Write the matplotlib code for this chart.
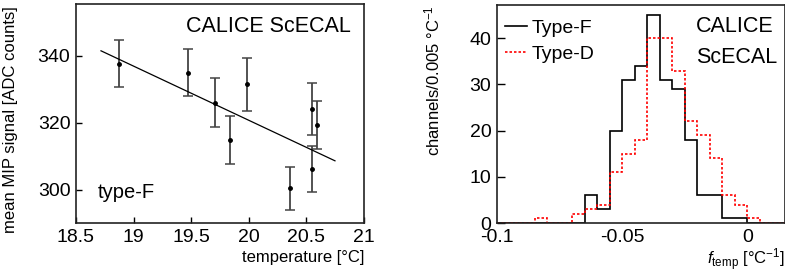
import numpy as np
from matplotlib import pyplot as plt

plt.rcParams['font.family'] = ['Liberation Sans', 'DejaVu Sans']
plt.rcParams['mathtext.fontset'] = 'custom'
plt.rcParams['mathtext.rm'] = 'Liberation Sans'
plt.rcParams['mathtext.it'] = 'Liberation Sans:italic'

# left panel: mean MIP signal vs temperature (type-F)
temp = [18.873, 19.475, 19.707, 19.837, 19.981, 20.355, 20.546, 20.549, 20.589]
mip = [337.7, 334.9, 326.0, 314.9, 331.5, 300.4, 324.2, 306.1, 319.3]
mip_err = [7.0, 7.0, 7.3, 7.2, 7.9, 6.4, 7.8, 6.8, 7.3]
fit_t = [18.717, 20.748]
fit_y = [341.5, 308.6]

# right panel: f_temp histograms, bin width 0.005
edges = np.round(np.arange(-0.1, 0.0151, 0.005), 4)
type_f = [0, 0, 0, 0, 0, 0, 0, 6, 3, 20, 31, 34, 45, 31, 29, 18, 6, 6, 1, 1, 0, 0, 0]
type_d = [0, 0, 0, 1, 0, 0, 2, 3, 4, 11, 15, 18, 40, 40, 33, 22, 19, 14, 6, 4, 1, 0, 0]

W, H = 785, 270
fig = plt.figure(figsize=(W/100, H/100), dpi=100)

ax1 = fig.add_axes([76/W, 1 - 223/H, (364-76)/W, (223-4)/H])
ax2 = fig.add_axes([497/W, 1 - 223/H, (785-497)/W, (223-5)/H])

for ax in (ax1, ax2):
    for s in ax.spines.values():
        s.set_color('#222222')
        s.set_linewidth(1.2)

# left
ax1.errorbar(temp, mip, yerr=mip_err, fmt='o', color='black', ms=2.5,
             ecolor='#444444', elinewidth=1.3, capsize=3.5, capthick=1.1)
ax1.plot(fit_t, fit_y, color='black', lw=0.9)
ax1.set_xlim(18.5, 21)
ax1.set_ylim(290, 355.5)
ax1.set_xticks([18.5, 19, 19.5, 20, 20.5, 21])
ax1.set_xticklabels(['18.5', '19', '19.5', '20', '20.5', '21'])
ax1.set_yticks([300, 320, 340])
ax1.tick_params(direction='in', length=4, width=1, labelsize=14, pad=4)
ax1.set_xlabel('temperature [°C]', fontsize=12, loc='right', labelpad=3)
ax1.set_ylabel('mean MIP signal [ADC counts]', fontsize=12)
ax1.yaxis.set_label_coords(-0.2, 0.47)
ax1.text(0.955, 0.895, 'CALICE ScECAL', transform=ax1.transAxes,
         ha='right', va='center', fontsize=15.5)
ax1.text(0.075, 0.14, 'type-F', transform=ax1.transAxes,
         ha='left', va='center', fontsize=14.5)

# right
ax2.stairs(type_f, edges, color='black', lw=1.2, label='Type-F')
ax2.stairs(type_d, edges, color='red', lw=1.2, linestyle=(0, (1.5, 1.2)),
           label='Type-D')
ax2.set_xlim(-0.1, 0.015)
ax2.set_ylim(0, 47.2)
ax2.set_xticks([-0.1, -0.05, 0])
ax2.set_xticklabels(['-0.1', '-0.05', '0'])
ax2.set_yticks([0, 10, 20, 30, 40])
ax2.tick_params(direction='in', length=5.5, width=1, labelsize=14, pad=4)
ax2.tick_params(axis='x', length=0)
ax2.set_xlabel(r'$f_{\mathrm{temp}}$ [°C$^{-1}$]', fontsize=12,
               loc='right', labelpad=0.5)
ax2.set_ylabel(r'channels/0.005 °C$^{-1}$', fontsize=12, loc='top')
ax2.yaxis.set_label_coords(-0.19, 1.0)
ax2.text(0.691, 0.90, 'CALICE', transform=ax2.transAxes,
         ha='left', va='center', fontsize=15.5)
ax2.text(0.691, 0.76, 'ScECAL', transform=ax2.transAxes,
         ha='left', va='center', fontsize=15.5)
ax2.legend(loc='upper left', bbox_to_anchor=(0.0, 0.97), frameon=False,
           fontsize=14, handlelength=1.15, handletextpad=0.25,
           labelspacing=0.45, borderpad=0.2, borderaxespad=0.2)

fig.savefig('out.png', dpi=100)
